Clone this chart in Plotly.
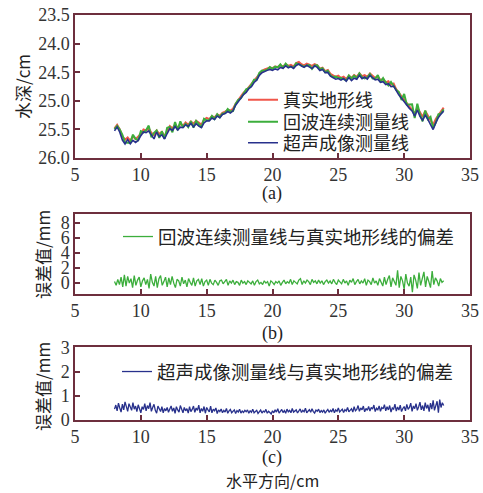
import numpy as np
import plotly.graph_objects as go

# ---------------- data ----------------
# true terrain (water depth, cm), sampled every 0.2 cm from 8.0 to 33.0
terrain = [
    25.48, 25.42, 25.50, 25.62, 25.68, 25.64, 25.70, 25.62, 25.67, 25.63,
    25.58, 25.50, 25.52, 25.48, 25.56, 25.60, 25.52, 25.58, 25.54, 25.62,
    25.52, 25.44, 25.48, 25.42, 25.47, 25.40, 25.44, 25.38, 25.42, 25.36,
    25.40, 25.35, 25.38, 25.42, 25.33, 25.30, 25.32, 25.27, 25.29, 25.24,
    25.26, 25.21, 25.19, 25.16, 25.17, 25.14, 25.05, 24.98, 24.93, 24.86,
    24.82, 24.76, 24.72, 24.65, 24.60, 24.52, 24.48, 24.45, 24.44, 24.42,
    24.43, 24.40, 24.41, 24.38, 24.40, 24.36, 24.39, 24.37, 24.40, 24.34,
    24.32, 24.36, 24.38, 24.35, 24.37, 24.39, 24.36, 24.38, 24.44, 24.42,
    24.48, 24.46, 24.53, 24.55, 24.58, 24.56, 24.60, 24.58, 24.62, 24.56,
    24.60, 24.55, 24.58, 24.52, 24.57, 24.55, 24.58, 24.52, 24.56, 24.60,
    24.58, 24.64, 24.62, 24.68, 24.66, 24.72, 24.70, 24.80, 24.86, 24.92,
    24.96, 25.02, 25.08, 25.14, 25.22, 25.12, 25.20, 25.28, 25.18, 25.26,
    25.34, 25.42, 25.32, 25.26, 25.18, 25.12,
]
x_terrain = np.linspace(8.0, 33.0, len(terrain))

# echo-sounding line minus true terrain (mm), every 0.125 cm from 8 to 33
err_echo = [
    0.2, -0.3, 0.5, -0.2, 0.8, -0.5, 1.1, -0.4, 0.9, 0.0, 0.6, -0.6, 1.0, -0.3, 0.4, 0.8,
    -0.5, 0.3, 0.7, -0.2, 0.5, -0.7, 1.2, 0.1, -0.4, 0.9, -0.6, 0.6, 1.0, -0.3, 0.2, 0.8, -0.5,
    0.7, -0.2, 0.9, 0.0, -0.6, 0.5, 0.3, -0.4, 0.8, -0.1, 0.4, -0.5, 0.6, 0.1, -0.3, 0.7,
    -0.4, 0.3, 0.5, -0.2, 0.6, -0.4, 0.2, 0.4, -0.3, 0.5, 0.0, -0.2, 0.4, 0.1, -0.3, 0.3,
    0.4, -0.1, 0.2, 0.5, -0.3, 0.3, 0.0, 0.4, -0.2, 0.2, 0.1, -0.3, 0.4, 0.0, 0.2, -0.2,
    0.3, 0.1, -0.1, 0.3, -0.3, 0.2, 0.4, -0.1, 0.1, -0.2, 0.3, 0.0, 0.2, -0.4, 0.3, 0.1,
    -0.2, 0.2, 0.0, 0.3, -0.3, 0.1, 0.4, -0.1, 0.2, 0.0, 0.5, -0.2, 0.3, 0.1, -0.1, 0.4,
    0.6, -0.2, 0.3, 0.0, 0.4, 0.2, -0.2, 0.5, 0.1, 0.3, -0.1, 0.4, 0.0, 0.3, -0.2, 0.2,
    0.4, 0.0, 0.3, -0.1, 0.5, 0.1, -0.2, 0.4, 0.2, -0.1, 0.5, 0.0, 0.3, -0.3, 0.4, 0.1,
    0.6, -0.2, 0.2, 0.5, -0.1, 0.3, 0.0, 0.6, -0.3, 0.4, 0.2, -0.2, 0.7, 0.0, 0.3, -0.3,
    0.6, 0.1, -0.4, 0.8, -0.2, 0.5, 1.0, -0.5, 0.7, 0.2, -0.3, 1.7, -0.6, 0.9, 0.3, -0.8,
    1.2, 0.0, -0.4, 0.8, -1.2, 1.1, 0.4, -0.7, 1.4, -0.3, 0.6, 1.5, -0.5, 0.9, 0.2, -0.6,
    1.6, -0.2, 0.7, 0.3, -0.4, 0.6, 0.1, 0.3,
]
x_echo = np.linspace(8.0, 33.0, len(err_echo))

# ultrasonic imaging line minus true terrain (mm), every 0.1 cm from 8 to 33
err_ultra = [
    0.45, 0.62, 0.38, 0.70, 0.50, 0.33, 0.66, 0.42, 0.75, 0.48, 0.36, 0.68, 0.52, 0.40, 0.72, 0.45, 0.58, 0.35, 0.63, 0.41,
    0.30, 0.55, 0.44, 0.68, 0.38, 0.60, 0.47, 0.72, 0.36, 0.52, 0.65, 0.40, 0.28, 0.58, 0.45, 0.35, 0.55, 0.30, 0.48, 0.38,
    0.52, 0.32, 0.46, 0.58, 0.36, 0.50, 0.28, 0.55, 0.42, 0.33, 0.60, 0.40, 0.30, 0.52, 0.38, 0.47, 0.29, 0.55, 0.35, 0.44,
    0.58, 0.32, 0.50, 0.40, 0.62, 0.30, 0.48, 0.36, 0.56, 0.28, 0.52, 0.42, 0.34, 0.58, 0.30, 0.45, 0.38, 0.50, 0.27, 0.42,
    0.35, 0.46, 0.30, 0.40, 0.33, 0.48, 0.28, 0.38, 0.44, 0.30, 0.36, 0.42, 0.27, 0.39, 0.33, 0.45, 0.29, 0.37, 0.31, 0.40,
    0.34, 0.42, 0.28, 0.38, 0.32, 0.45, 0.30, 0.36, 0.40, 0.27, 0.35, 0.41, 0.29, 0.37, 0.33, 0.44, 0.28, 0.36, 0.31, 0.25,
    0.38, 0.30, 0.42, 0.33, 0.47, 0.29, 0.36, 0.44, 0.31, 0.39, 0.28, 0.45, 0.34, 0.40, 0.30, 0.48, 0.33, 0.37, 0.42, 0.29,
    0.36, 0.46, 0.31, 0.40, 0.34, 0.49, 0.30, 0.38, 0.43, 0.32, 0.47, 0.35, 0.29, 0.41, 0.36, 0.45, 0.31, 0.39, 0.33, 0.42,
    0.28, 0.37, 0.44, 0.32, 0.40, 0.35, 0.48, 0.30, 0.42, 0.36, 0.50, 0.33, 0.39, 0.45, 0.31, 0.43, 0.37, 0.52, 0.34, 0.41,
    0.47, 0.33, 0.55, 0.38, 0.44, 0.60, 0.36, 0.50, 0.42, 0.58, 0.34, 0.48, 0.40, 0.56, 0.37, 0.52, 0.45, 0.62, 0.35, 0.49,
    0.43, 0.58, 0.36, 0.52, 0.46, 0.64, 0.38, 0.55, 0.42, 0.60, 0.33, 0.50, 0.45, 0.66, 0.37, 0.54, 0.41, 0.62, 0.35, 0.48,
    0.56, 0.38, 0.65, 0.44, 0.52, 0.70, 0.36, 0.58, 0.47, 0.68, 0.40, 0.55, 0.74, 0.42, 0.60, 0.38, 0.72, 0.48, 0.63, 0.35,
    0.70, 0.45, 0.82, 0.40, 0.66, 0.78, 0.30, 0.85, 0.52, 0.72, 0.60,
]
x_ultra = np.linspace(8.0, 33.0, len(err_ultra))

# measured lines = terrain + deviation (mm -> cm)
echo_line = np.array(terrain) + np.interp(x_terrain, x_echo, err_echo) / 10.0
ultra_line = np.array(terrain) + np.interp(x_terrain, x_ultra, err_ultra) / 10.0

names_a = ["真实地形线", "回波连续测量线", "超声成像测量线"]
name_b = "回波连续测量线与真实地形线的偏差"
name_c = "超声成像测量线与真实地形线的偏差"

# ---------------- style ----------------
W, H = 483, 493
FRAME = "#6d2f3d"
RED = "#f0564a"
GREEN = "#3cae3c"
BLUE = "#28318c"
SERIF = "Liberation Serif"
CJK = "Noto Sans CJK SC"
TXT = "#222222"


def px_x(p):
    return p / W


def px_y(p):
    return 1 - p / H


fig = go.Figure()
fig.add_trace(go.Scatter(x=x_terrain, y=terrain, mode="lines", name=names_a[0],
                         line=dict(color=RED, width=2), xaxis="x", yaxis="y", legend="legend"))
fig.add_trace(go.Scatter(x=x_terrain, y=echo_line, mode="lines", name=names_a[1],
                         line=dict(color=GREEN, width=2), xaxis="x", yaxis="y", legend="legend4"))
fig.add_trace(go.Scatter(x=x_terrain, y=ultra_line, mode="lines", name=names_a[2],
                         line=dict(color=BLUE, width=1.6), xaxis="x", yaxis="y", legend="legend5"))
fig.add_trace(go.Scatter(x=x_echo, y=err_echo, mode="lines", name=name_b,
                         line=dict(color=GREEN, width=1.3), xaxis="x2", yaxis="y2", legend="legend2"))
fig.add_trace(go.Scatter(x=x_ultra, y=err_ultra, mode="lines", name=name_c,
                         line=dict(color=BLUE, width=1.3), xaxis="x3", yaxis="y3", legend="legend3"))

axis_common = dict(showline=True, mirror=True, linecolor=FRAME, linewidth=1.5,
                   ticks="inside", ticklen=5, tickcolor=FRAME, tickwidth=1.5,
                   showgrid=False, zeroline=False, automargin=False,
                   tickfont=dict(family=SERIF, size=18, color="#333333"))
xdom = [px_x(75), px_x(470)]
xcommon = dict(axis_common, range=[5, 35], tickvals=[5, 10, 15, 20, 25, 30, 35], domain=xdom)


def leg(xp, yp, size=18):
    return dict(x=px_x(xp), y=px_y(yp), xanchor="left", yanchor="middle",
                bgcolor="rgba(0,0,0,0)", font=dict(family=CJK, size=size, color=TXT))


layout = dict(
    width=W, height=H, margin=dict(l=0, r=0, t=0, b=0, autoexpand=False),
    paper_bgcolor="white", plot_bgcolor="white", showlegend=True,
    xaxis=dict(xcommon, anchor="y"),
    yaxis=dict(axis_common, anchor="x", range=[26.0, 23.5], tickvals=[23.5, 24.0, 24.5, 25.0, 25.5, 26.0],
               tickformat=".1f", domain=[px_y(158), px_y(15)]),
    xaxis2=dict(xcommon, anchor="y2"),
    yaxis2=dict(axis_common, anchor="x2", range=[-1.45, 9.2], tickvals=[0, 2, 4, 6, 8],
                domain=[px_y(294), px_y(214)]),
    xaxis3=dict(xcommon, anchor="y3"),
    yaxis3=dict(axis_common, anchor="x3", range=[0, 3.03], tickvals=[0, 1, 2, 3],
                domain=[px_y(420), px_y(347)]),
    legend=leg(243, 100),
    legend4=leg(243, 122),
    legend5=leg(243, 143),
    legend2=leg(118, 237, 18.5),
    legend3=leg(117, 372, 18.5),
)
fig.update_layout(**layout)

ann = [
    dict(text="水深/cm", x=px_x(22), y=px_y(87), textangle=-90, font=dict(family=CJK, size=17, color=TXT)),
    dict(text="误差值/mm", x=px_x(42), y=px_y(255), textangle=-90, font=dict(family=CJK, size=17, color=TXT)),
    dict(text="误差值/mm", x=px_x(42), y=px_y(387), textangle=-90, font=dict(family=CJK, size=17, color=TXT)),
    dict(text="(a)", x=px_x(272), y=px_y(193), font=dict(family=SERIF, size=18, color=TXT)),
    dict(text="(b)", x=px_x(272), y=px_y(333), font=dict(family=SERIF, size=18, color=TXT)),
    dict(text="(c)", x=px_x(272), y=px_y(457), font=dict(family=SERIF, size=18, color=TXT)),
    dict(text="水平方向/cm", x=px_x(272), y=px_y(480), font=dict(family=CJK, size=16, color=TXT)),
]
for a in ann:
    a.update(xref="paper", yref="paper", showarrow=False, xanchor="center", yanchor="middle")
    fig.add_annotation(**a)

fig.write_html("out.html", config={"displayModeBar": False},
               post_script="document.body.style.margin='0px';document.body.style.overflow='hidden';")
